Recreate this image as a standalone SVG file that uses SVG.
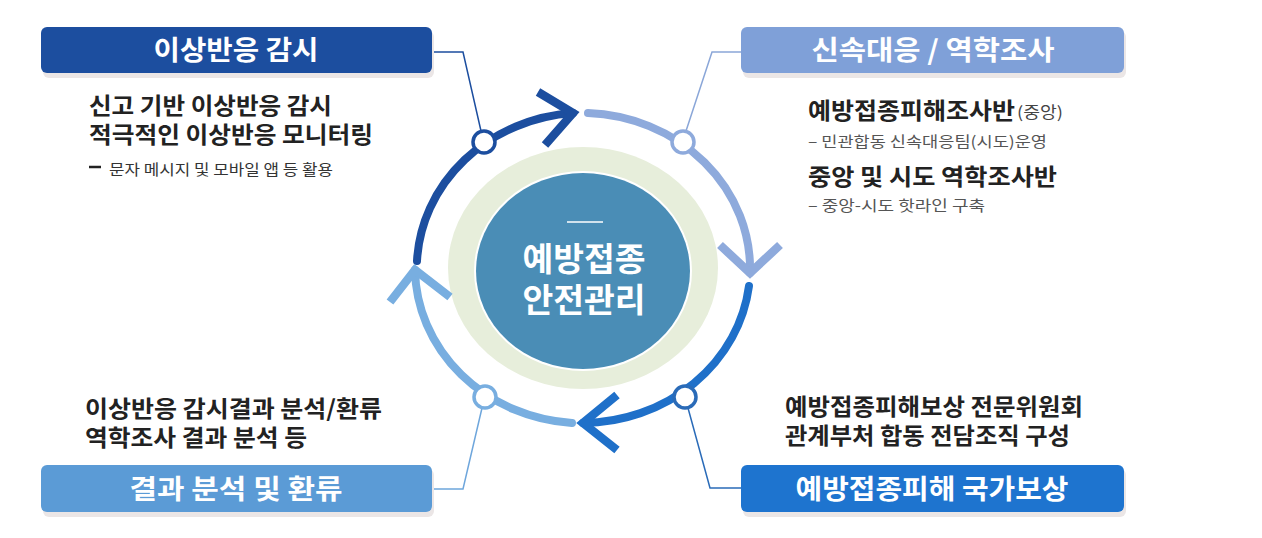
<svg xmlns="http://www.w3.org/2000/svg" width="1262" height="538" viewBox="0 0 1262 538">
<style>
text{font-family:"Noto Sans CJK KR","Noto Sans",sans-serif}
.hd{font-size:27px;font-weight:700;fill:#fff;text-anchor:middle}
.b{font-size:23px;font-weight:700;fill:#222}
.s{font-size:15px;font-weight:400;fill:#555}
.ctr{font-size:33px;font-weight:700;fill:#fff;text-anchor:middle}
.arc{fill:none;stroke-width:8;stroke-linecap:round}
.chev{fill:none;stroke-width:8.5;stroke-linejoin:miter}
.node{fill:#fff;stroke-width:3.5}
.con{fill:none;stroke-width:1.5}
.shadow{fill:#ebe6e6}
</style>
<rect width="1262" height="538" fill="#fff"/>

<g id="center">
<ellipse cx="583" cy="268" rx="135" ry="121" fill="#e7eedb"/>
<ellipse cx="583" cy="271" rx="109" ry="100" fill="#fff"/>
<ellipse cx="583" cy="271" rx="107" ry="98" fill="#4a8db6"/>
<line x1="567" y1="222" x2="603" y2="222" stroke="#fff" stroke-width="1.5"/>
<text class="ctr" x="584" y="271" textLength="123" lengthAdjust="spacingAndGlyphs">예방접종</text>
<text class="ctr" x="584" y="312" textLength="123" lengthAdjust="spacingAndGlyphs">안전관리</text>
</g>

<g id="connectors">
<path class="con" stroke="#1c4e9f" d="M432,52 H463 L481,131"/>
<path class="con" stroke="#8aa6d8" d="M742,52 H712 L686,131"/>
<path class="con" stroke="#6ea6dc" d="M432,489 H463 L482,408"/>
<path class="con" stroke="#2a6bb8" d="M742,488 H710 L688,408"/>
</g>

<g id="cycle">
<path class="arc" stroke="#1c4e9f" d="M417,261 A169,156 0 0 1 573,113"/>
<path class="chev" stroke="#1c4e9f" d="M538,92 L573,113 L545,145"/>
<path class="arc" stroke="#8eaadc" d="M588,113 A169,156 0 0 1 750,273"/>
<path class="chev" stroke="#8eaadc" d="M720,245 L750,273 L780,245"/>
<path class="arc" stroke="#1f70c9" d="M749,286 A169,156 0 0 1 583,423"/>
<path class="chev" stroke="#1f70c9" d="M617,395 L583,423 L617,450"/>
<path class="arc" stroke="#78aee0" d="M572,423 A169,156 0 0 1 415,270"/>
<path class="chev" stroke="#78aee0" d="M390,302 L415,270 L450,297"/>
<circle class="node" cx="484" cy="142" r="11" stroke="#1c4e9f"/>
<circle class="node" cx="683" cy="142" r="11" stroke="#8eaadc"/>
<circle class="node" cx="685" cy="397" r="11" stroke="#2a6bb8"/>
<circle class="node" cx="485" cy="397" r="11" stroke="#78aee0"/>
</g>

<g id="monitoring">
<rect class="shadow" x="43" y="31" width="391" height="47" rx="6"/>
<rect x="41" y="27" width="391" height="46" rx="6" fill="#1c4e9f"/>
<text class="hd" x="236" y="60" textLength="165" lengthAdjust="spacingAndGlyphs">이상반응 감시</text>
<text class="b" x="89" y="114" textLength="243" lengthAdjust="spacingAndGlyphs">신고 기반 이상반응 감시</text>
<text class="b" x="89" y="143" textLength="284" lengthAdjust="spacingAndGlyphs">적극적인 이상반응 모니터링</text>
<line x1="89" y1="167" x2="101" y2="167" stroke="#222" stroke-width="2.5"/>
<text class="s" x="109" y="175" fill="#333" style="fill:#333" textLength="224" lengthAdjust="spacingAndGlyphs">문자 메시지 및 모바일 앱 등 활용</text>
</g>

<g id="response">
<rect class="shadow" x="743" y="31" width="383" height="47" rx="6"/>
<rect x="741" y="27" width="383" height="46" rx="6" fill="#7fa0d8"/>
<text class="hd" x="933" y="60" textLength="243" lengthAdjust="spacingAndGlyphs">신속대응 / 역학조사</text>
<text class="b" x="808" y="119" textLength="207" lengthAdjust="spacingAndGlyphs">예방접종피해조사반</text>
<text x="1017" y="118" font-size="16" fill="#444" textLength="46" lengthAdjust="spacingAndGlyphs">(중앙)</text>
<text class="s" x="808" y="147" textLength="239" lengthAdjust="spacingAndGlyphs">– 민관합동 신속대응팀(시도)운영</text>
<text class="b" x="808" y="185" textLength="249" lengthAdjust="spacingAndGlyphs">중앙 및 시도 역학조사반</text>
<text class="s" x="808" y="211" textLength="177" lengthAdjust="spacingAndGlyphs">– 중앙-시도 핫라인 구축</text>
</g>

<g id="compensation">
<rect class="shadow" x="743" y="469" width="383" height="48" rx="6"/>
<rect x="741" y="465" width="383" height="47" rx="6" fill="#1e74cf"/>
<text class="hd" x="932" y="499" textLength="273" lengthAdjust="spacingAndGlyphs">예방접종피해 국가보상</text>
<text class="b" x="785" y="415" textLength="298" lengthAdjust="spacingAndGlyphs">예방접종피해보상 전문위원회</text>
<text class="b" x="785" y="444" textLength="285" lengthAdjust="spacingAndGlyphs">관계부처 합동 전담조직 구성</text>
</g>

<g id="feedback">
<rect class="shadow" x="43" y="469" width="391" height="48" rx="6"/>
<rect x="41" y="465" width="391" height="47" rx="6" fill="#5b9bd6"/>
<text class="hd" x="236" y="499" textLength="213" lengthAdjust="spacingAndGlyphs">결과 분석 및 환류</text>
<text class="b" x="85" y="417" textLength="297" lengthAdjust="spacingAndGlyphs">이상반응 감시결과 분석/환류</text>
<text class="b" x="85" y="446" textLength="222" lengthAdjust="spacingAndGlyphs">역학조사 결과 분석 등</text>
</g>
</svg>
